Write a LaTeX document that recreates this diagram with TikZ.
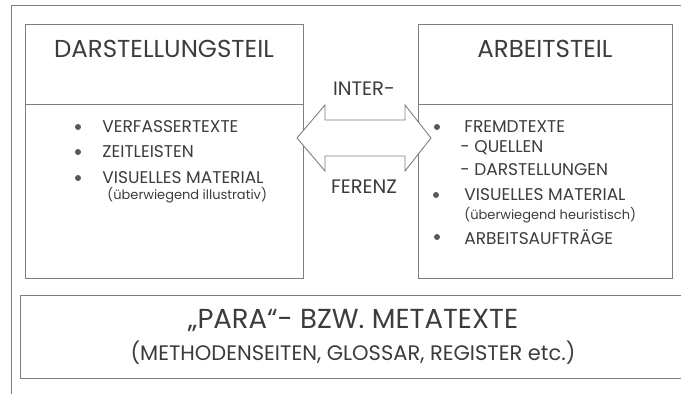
\documentclass[tikz,border=0pt]{standalone}
\usepackage{fontspec}
\setmainfont{Poppins}
\definecolor{linegray}{HTML}{7E7E7E}
\definecolor{ink}{HTML}{3C3C3C}
\begin{document}
\begin{tikzpicture}[x=1pt,y=-1pt,
  line width=0.9pt,
  frame/.style={draw=linegray},
  box/.style={draw=linegray, fill=none, inner sep=0pt},
  head/.style={text=ink, font=\fontsize{24.5}{28}\selectfont, inner sep=0pt},
  arrowtext/.style={text=ink, font=\fontsize{19.5}{22}\selectfont, inner sep=0pt},
  item/.style={text=ink, font=\fontsize{17}{20}\selectfont, anchor=west, inner sep=0pt},
  small/.style={text=ink, font=\fontsize{13}{15}\selectfont, anchor=west, inner sep=0pt},
  dot/.style={circle, fill=ink!85, inner sep=0pt, minimum size=6pt},
  big/.style={text=ink, font=\fontsize{27.5}{32}\selectfont, inner sep=0pt},
  mid/.style={text=ink, font=\fontsize{21}{25}\selectfont, inner sep=0pt}]
\useasboundingbox (0,0) rectangle (681,394);
\clip (0,0) rectangle (681,394);
% outer frame
\coordinate (fb) at (11,394);
\coordinate (fc) at (11,5);
\coordinate (fr) at (681,5);
\draw[frame] (fb) -- (fc) -- (fr);
% left box
\node[box, minimum width=278pt, minimum height=254pt] (dbox) at (164,151) {};
\coordinate (dl) at (25,104);
\coordinate (dr) at (303,104);
\draw[frame] (dl) -- (dr);
% right box
\node[box, minimum width=254pt, minimum height=254pt] (abox) at (545,151) {};
\coordinate (al) at (418,104);
\coordinate (ar) at (672,104);
\draw[frame] (al) -- (ar);
% bottom box
\node[box, minimum width=666pt, minimum height=83pt] (mbox) at (353,336.5) {};
% headings
\node[head] (dh) at (164,49) {DARSTELLUNGSTEIL};
\node[head] (ah) at (545,49) {ARBEITSTEIL};
% double arrow
\draw[frame, fill=white]
  (297,138) -- (325,105) -- (325,120) -- (405,120) -- (405,105) -- (431,138)
  -- (405,171) -- (405,156) -- (325,156) -- (325,171) -- cycle;
\node[arrowtext] (inter) at (364,89) {INTER-};
\node[arrowtext] (ferenz) at (364,187) {FERENZ};
% left items
\node[dot] (b1) at (78,127) {};
\node[item] (t1) at (102,127) {VERFASSERTEXTE};
\node[dot] (b2) at (78,152) {};
\node[item] (t2) at (102,152) {ZEITLEISTEN};
\node[dot] (b3) at (78,178) {};
\node[item] (t3) at (102,178) {VISUELLES MATERIAL};
\node[small] (t4) at (107,195) {(überwiegend illustrativ)};
% right items
\node[dot] (c1) at (437,127) {};
\node[item] (u1) at (464,127) {FREMDTEXTE};
\node[item] (u2) at (460,148) {- QUELLEN};
\node[item] (u3) at (460,170) {- DARSTELLUNGEN};
\node[dot] (c2) at (436,195) {};
\node[item] (u4) at (464,195) {VISUELLES MATERIAL};
\node[small] (u5) at (464,215) {(überwiegend heuristisch)};
\node[dot] (c3) at (437,237) {};
\node[item] (u6) at (464,237) {ARBEITSAUFTRÄGE};
% bottom texts
\node[big] (m1) at (353,320) {„PARA“- BZW. METATEXTE};
\node[mid] (m2) at (353,353) {(METHODENSEITEN, GLOSSAR, REGISTER etc.)};
\end{tikzpicture}
\end{document}
